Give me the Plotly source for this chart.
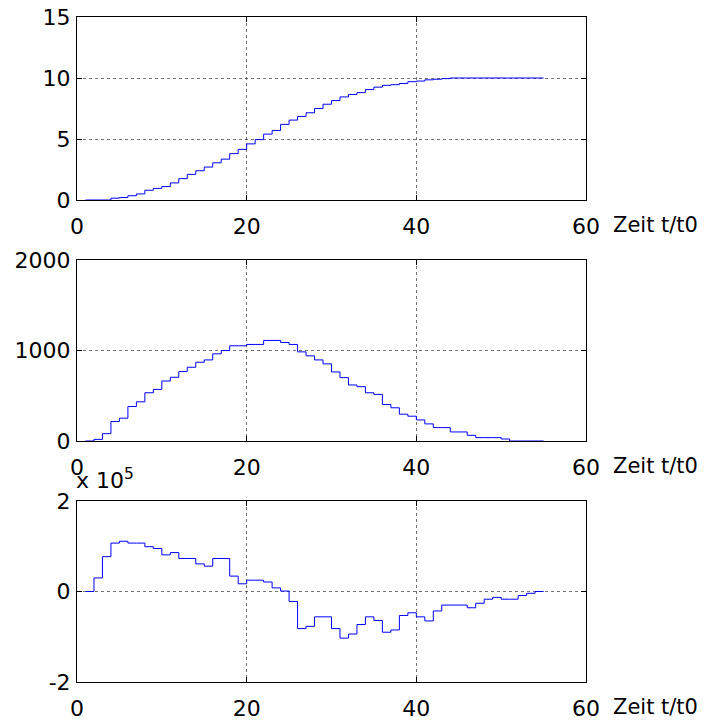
import plotly.graph_objects as go
from plotly.subplots import make_subplots

# time steps t/t0
t = list(range(1, 56))

# top panel
s1 = [0, 0, 0, 0.15, 0.2, 0.35, 0.5, 0.8, 0.95, 1.1,
      1.4, 1.75, 2.1, 2.4, 2.7, 3.05, 3.35, 3.8, 4.15, 4.6,
      4.95, 5.4, 5.7, 6.2, 6.55, 6.85, 7.15, 7.5, 7.85, 8.15,
      8.45, 8.65, 8.8, 9.05, 9.25, 9.4, 9.45, 9.55, 9.7, 9.75,
      9.85, 9.9, 9.95, 10, 10, 10, 10, 10, 10, 10,
      10, 10, 10, 10, 10]

# middle panel
s2 = [0, 18, 81, 215, 252, 381, 433, 533, 570, 663,
      704, 767, 815, 870, 896, 963, 1000, 1052, 1052, 1067,
      1067, 1111, 1111, 1089, 1067, 985, 941, 896, 852, 763,
      700, 619, 600, 533, 515, 404, 367, 296, 274, 233,
      189, 148, 148, 100, 100, 63, 37, 37, 37, 22,
      0, 0, 0, 0, 0]

# bottom panel
s3 = [0, 30000, 77000, 107000, 111000, 107000, 107000, 99000, 95000, 81000,
      86000, 73000, 73000, 61000, 56000, 73000, 73000, 34000, 17000, 25000,
      25000, 21000, 8000, 1000, -22000, -82000, -77000, -56000, -56000, -82000,
      -103000, -94000, -73000, -56000, -64000, -90000, -85000, -53000, -47000, -56000,
      -65000, -43000, -30000, -30000, -30000, -36000, -26000, -17000, -13000, -17000,
      -17000, -9000, -4000, 0, 0]

x_ticks = [0, 20, 40, 60]
y1_ticks = [0, 5, 10, 15]
y2_ticks = [0, 1000, 2000]
y3_ticks = [-200000, 0, 200000]
y3_ticktext = ["-2", "0", "2"]
x_label = "Zeit t/t0"
scale_label = "x 10<sup>5</sup>"

FONT = "DejaVu Sans, Liberation Sans, Arial, sans-serif"
FS = 22
FS_LABEL = 21

# the page body adds an 8px margin, so the figure is laid out 8px smaller
W, H = 699, 714
mt, mb, ml, mr = 9, 40, 69, 121
ph = H - mt - mb

def dom(top_px, bot_px):
    return [1 - (bot_px - mt) / ph, 1 - (top_px - mt) / ph]

d1 = dom(9, 192)
d2 = dom(252, 433)
d3 = dom(493, 674)

fig = make_subplots(rows=3, cols=1)
for i, s in enumerate([s1, s2, s3], start=1):
    fig.add_trace(go.Scatter(x=t, y=s, mode="lines", line=dict(color="#0000ff", width=1, shape="hv"),
                             showlegend=False, hoverinfo="skip"), row=i, col=1)

common_ax = dict(showline=True, linecolor="black", linewidth=1, mirror="ticks",
                 ticks="inside", ticklen=5, tickcolor="black", tickwidth=1,
                 showgrid=True, gridcolor="rgba(0,0,0,0.55)", griddash="dot", gridwidth=1,
                 zeroline=False, automargin=False, ticklabeloverflow="allow",
                 tickfont=dict(family=FONT, size=FS, color="black"))

for i, d in zip([1, 2, 3], [d1, d2, d3]):
    xa = "xaxis" if i == 1 else f"xaxis{i}"
    ya = "yaxis" if i == 1 else f"yaxis{i}"
    fig.layout[xa].update(range=[0, 60], tickvals=x_ticks, ticklabelstandoff=7, domain=[0, 1], **common_ax)
    fig.layout[ya].update(domain=d, ticklabelstandoff=1, **common_ax)

fig.layout.yaxis.update(range=[0, 15], tickvals=y1_ticks)
fig.layout.yaxis2.update(range=[0, 2000], tickvals=y2_ticks)
fig.layout.yaxis3.update(range=[-200000, 200000], tickvals=y3_ticks, ticktext=y3_ticktext)

annotations = []
for d in [d1, d2, d3]:
    annotations.append(dict(text=x_label, xref="paper", yref="paper", x=1, y=d[0],
                            xanchor="left", yanchor="middle", xshift=25, yshift=-25,
                            showarrow=False, font=dict(family=FONT, size=FS_LABEL, color="black")))
annotations.append(dict(text=scale_label, xref="paper", yref="paper", x=0, y=d3[1],
                        xanchor="left", yanchor="bottom", xshift=-3, yshift=6,
                        showarrow=False, font=dict(family=FONT, size=FS, color="black")))

fig.update_layout(template="none", width=W, height=H, margin=dict(l=ml, r=mr, t=mt, b=mb, autoexpand=False),
                  paper_bgcolor="white", plot_bgcolor="white", annotations=annotations)

fig.write_html("out.html")
